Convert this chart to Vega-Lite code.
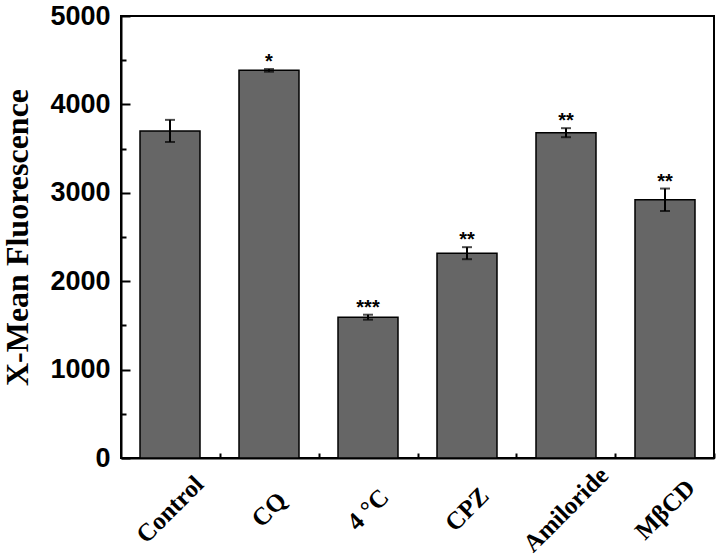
{
  "$schema": "https://vega.github.io/schema/vega-lite/v6.json",
  "autosize": {"type": "none"},
  "width": 593,
  "height": 442,
  "padding": {"left": 121, "top": 16, "right": 6, "bottom": 100},
  "background": "white",
  "config": {"view": {"stroke": "black", "strokeWidth": 2}, "axis": {"grid": false}},
  "data": {
    "values": [
      {"group": "Control", "mean": 3700, "lo": 3575, "hi": 3825, "sig": ""},
      {"group": "CQ", "mean": 4385, "lo": 4370, "hi": 4400, "sig": "*"},
      {"group": "4 °C", "mean": 1593, "lo": 1565, "hi": 1621, "sig": "***"},
      {"group": "CPZ", "mean": 2317, "lo": 2249, "hi": 2385, "sig": "**"},
      {"group": "Amiloride", "mean": 3680, "lo": 3629, "hi": 3731, "sig": "**"},
      {"group": "MβCD", "mean": 2921, "lo": 2794, "hi": 3048, "sig": "**"}
    ]
  },
  "layer": [
    {
      "mark": {"type": "bar", "fill": "#666666", "stroke": "black", "strokeWidth": 1.5},
      "encoding": {
        "x": {
          "field": "group", "type": "nominal", "sort": null,
          "scale": {"paddingInner": 0.394, "paddingOuter": 0.192},
          "axis": {
            "title": null, "labelAngle": -45, "labelAlign": "center", "labelBaseline": "middle",
            "labelFont": "Liberation Serif", "labelFontWeight": "bold",
            "labelFontSize": 25, "labelColor": "black", "domainColor": "black", "domainWidth": 2,
            "tickColor": "black", "tickWidth": 2, "tickSize": -9, "labelPadding": 60
          }
        },
        "y": {
          "field": "mean", "type": "quantitative", "scale": {"domain": [0, 5000]},
          "axis": {
            "title": "X-Mean Fluorescence", "values": [0, 1000, 2000, 3000, 4000, 5000], "format": "d",
            "labelFont": "Liberation Sans", "labelFontWeight": "bold", "labelFontSize": 27, "labelColor": "black",
            "tickSize": -9, "tickWidth": 2, "tickColor": "black", "domainColor": "black", "domainWidth": 2,
            "labelPadding": 20, "titleFont": "Liberation Serif", "titleFontSize": 32, "titleFontWeight": "bold",
            "titleColor": "black", "titlePadding": 15
          }
        }
      }
    },
    {
      "mark": {"type": "rule", "color": "black", "strokeWidth": 2},
      "encoding": {
        "x": {
          "field": "group", "type": "nominal", "sort": null,
          "axis": {"title": null, "labels": false, "domain": false, "tickSize": -5, "tickWidth": 2, "tickColor": "black", "tickOffset": 49.5, "orient": "bottom"}
        },
        "y": {
          "field": "lo", "type": "quantitative", "scale": {"domain": [0, 5000]},
          "axis": {"title": null, "labels": false, "domain": false, "values": [500, 1500, 2500, 3500, 4500], "tickSize": -5, "tickWidth": 2, "tickColor": "black", "orient": "left"}
        },
        "y2": {"field": "hi"}
      }
    },
    {
      "mark": {"type": "tick", "color": "black", "thickness": 2, "size": 10},
      "encoding": {
        "x": {"field": "group", "type": "nominal", "sort": null, "axis": null},
        "y": {"field": "lo", "type": "quantitative", "axis": null}
      }
    },
    {
      "mark": {"type": "tick", "color": "black", "thickness": 2, "size": 10},
      "encoding": {
        "x": {"field": "group", "type": "nominal", "sort": null, "axis": null},
        "y": {"field": "hi", "type": "quantitative", "axis": null}
      }
    },
    {
      "mark": {"type": "text", "font": "Liberation Sans", "fontSize": 20, "fontWeight": "bold", "baseline": "alphabetic", "dy": -1, "color": "black"},
      "encoding": {
        "x": {"field": "group", "type": "nominal", "sort": null, "axis": null},
        "y": {"field": "hi", "type": "quantitative", "axis": null},
        "text": {"field": "sig"}
      }
    }
  ],
  "resolve": {"axis": {"x": "independent", "y": "independent"}}
}
